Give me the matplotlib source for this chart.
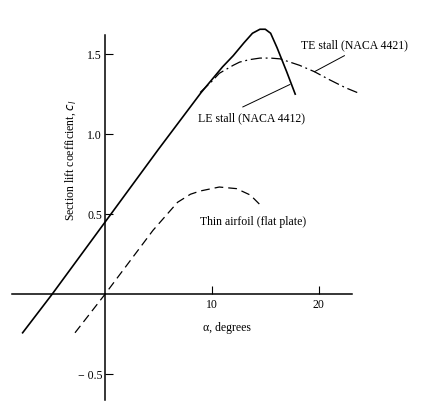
import matplotlib.pyplot as plt

# ---- data ----
# NACA 4412 (leading-edge stall), solid
alpha_4412 = [-7.7, -4.95, 0.0, 5.0, 9.0, 10.0, 11.0, 12.0, 13.0, 13.8, 14.5, 15.0, 15.5, 16.1, 17.0, 17.8]
cl_4412 = [-0.24, 0.0, 0.45, 0.905, 1.26, 1.34, 1.42, 1.49, 1.57, 1.63, 1.655, 1.655, 1.63, 1.54, 1.39, 1.25]

# NACA 4421 (trailing-edge stall), dash-dot
alpha_4421 = [8.9, 10.0, 10.7, 12.0, 12.6, 13.5, 14.5, 15.5, 16.4, 17.3, 18.2, 19.6, 21.0, 22.5, 23.6]
cl_4421 = [1.26, 1.33, 1.38, 1.43, 1.45, 1.465, 1.475, 1.475, 1.47, 1.45, 1.43, 1.39, 1.34, 1.29, 1.26]

# thin airfoil (flat plate), dashed
alpha_thin = [-2.8, 0.0, 4.5, 6.8, 8.0, 8.9, 10.7, 12.3, 13.6, 14.5]
cl_thin = [-0.24, 0.0, 0.40, 0.575, 0.625, 0.645, 0.67, 0.66, 0.62, 0.56]

xticks = [10, 20]
yticks = [-0.5, 0.5, 1.0, 1.5]
ytick_labels = ["\u2212 0.5", "0.5", "1.0", "1.5"]

plt.rcParams['font.family'] = ['Liberation Serif', 'DejaVu Serif']
plt.rcParams['font.size'] = 8.5

fig = plt.figure(figsize=(4.26, 4.15), dpi=100)
ax = fig.add_axes([0.028, 0.036, 0.798, 0.880])

ax.plot(alpha_4412, cl_4412, color='black', lw=1.2, clip_on=False)
ax.plot(alpha_4421, cl_4421, color='black', lw=0.9, dashes=(9, 3, 1.5, 3), clip_on=False)
ax.plot(alpha_thin, cl_thin, color='black', lw=0.9, dashes=(7, 4))

# leader lines
ax.plot([19.6, 22.4], [1.39, 1.49], color='black', lw=0.7)
ax.plot([12.9, 17.3], [1.17, 1.31], color='black', lw=0.7)

ax.text(18.3, 1.556, "TE stall (NACA 4421)", va='center', ha='left')
ax.text(8.7, 1.10, "LE stall (NACA 4412)", va='center', ha='left')
ax.text(8.9, 0.45, "Thin airfoil (flat plate)", va='center', ha='left')

ax.text(11.4, -0.21, "\u03b1, degrees", va='center', ha='center')
ax.text(-3.2, 0.84, "Section lift coefficient, $c_l$", va='center', ha='center', rotation=90)

ax.set_xlim(-8.7, 23.1)
ax.set_ylim(-0.66, 1.62)

for s in ['top', 'right']:
    ax.spines[s].set_visible(False)
ax.spines['left'].set_position(('data', 0))
ax.spines['bottom'].set_position(('data', 0))
ax.spines['left'].set_linewidth(1.1)
ax.spines['bottom'].set_linewidth(1.1)

ax.set_xticks(xticks)
ax.set_xticklabels([str(t) for t in xticks])
ax.set_yticks(yticks)
ax.set_yticklabels(ytick_labels)
ax.tick_params(axis='x', direction='in', length=6, width=0.8, pad=3)
ax.tick_params(axis='y', direction='in', length=6, width=0.8, pad=2)
ax.patch.set_alpha(0)

fig.savefig('out.png', dpi=100)
